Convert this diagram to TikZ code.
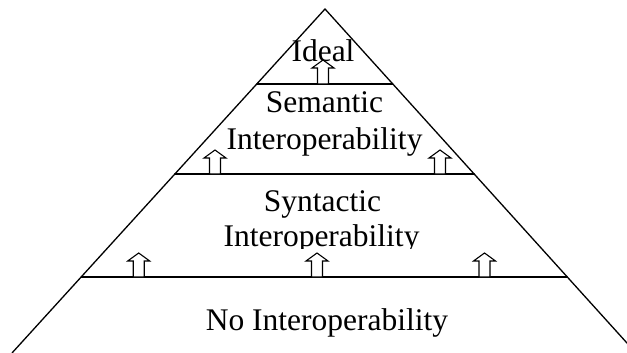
\documentclass[tikz,border=0pt]{standalone}
\usepackage{fontspec}
\setmainfont{Liberation Serif}
\usetikzlibrary{calc}
\tikzset{
  layerline/.style={line width=1.3pt, line cap=round},
  lbl/.style={anchor=base, inner sep=0pt, font=\fontsize{31.5}{37}\selectfont},
  uparrow/.pic={
    \draw[line width=1.1pt, fill=white, line join=miter]
      (-5.5,0) -- (-5.5,-16) -- (-11,-16) -- (0,-24) -- (11,-16) -- (5.5,-16) -- (5.5,0) -- cycle;
  }
}
\begin{document}
\begin{tikzpicture}[x=1pt,y=-1pt]
\useasboundingbox (0,0) rectangle (627,353);
\clip (0,0) rectangle (627,353);
% pyramid outline
\coordinate (apex) at (325,9);
\coordinate (bl) at (12,353);
\coordinate (br) at (636,353);
\draw[layerline] (bl) -- (apex) -- (br);
% layer boundaries
\coordinate (l1) at ($(apex)!0.218!(bl)$);
\coordinate (r1) at ($(apex)!0.218!(br)$);
\coordinate (l2) at ($(apex)!0.4797!(bl)$);
\coordinate (r2) at ($(apex)!0.4797!(br)$);
\coordinate (l3) at ($(apex)!0.779!(bl)$);
\coordinate (r3) at ($(apex)!0.779!(br)$);
\draw[layerline] (l1) -- (r1);
\draw[layerline] (l2) -- (r2);
\draw[layerline] (l3) -- (r3);
% labels
\node[lbl] (ideal) at (323,62) {Ideal};
\node[lbl] (sem1) at (324.5,113) {Semantic};
\node[lbl] (sem2) at (324.5,149) {Interoperability};
\node[lbl] (syn1) at (322.5,211) {Syntactic};
\begin{scope}
  \clip (0,0) rectangle (627,248);
  \node[lbl] (syn2) at (321.5,246) {Interoperability};
\end{scope}
\node[lbl] (none) at (327,330) {No Interoperability};
% arrows
\pic at (323,84) {uparrow};
\pic at (215,174) {uparrow};
\pic at (440,174) {uparrow};
\pic at (138.7,277) {uparrow};
\pic at (317,277) {uparrow};
\pic at (484.5,277) {uparrow};
\end{tikzpicture}
\end{document}
